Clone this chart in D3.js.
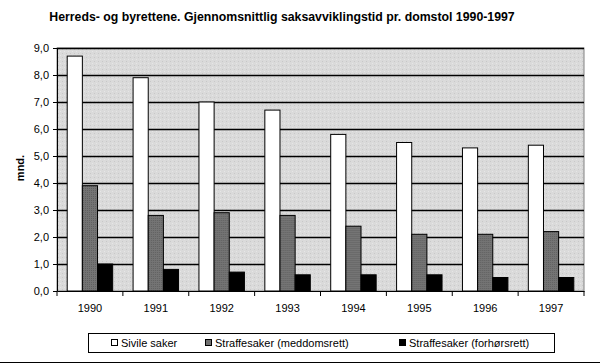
<!DOCTYPE html>
<html>
<head>
<meta charset="utf-8">
<script src="https://cdn.jsdelivr.net/npm/d3@7"></script>
<style>
  body { margin: 0; background: #fff; }
  text { font-family: "Liberation Sans", Arial, sans-serif; }
</style>
</head>
<body>
<script>
// Data
var years = ["1990", "1991", "1992", "1993", "1994", "1995", "1996", "1997"];
var seriesNames = ["Sivile saker", "Straffesaker (meddomsrett)", "Straffesaker (forhørsrett)"];
var sivile = [8.7, 7.9, 7.0, 6.7, 5.8, 5.5, 5.3, 5.4];
var meddomsrett = [3.9, 2.8, 2.9, 2.8, 2.4, 2.1, 2.1, 2.2];
var forhorsrett = [1.0, 0.8, 0.7, 0.6, 0.6, 0.6, 0.5, 0.5];
var yTicks = [0, 1, 2, 3, 4, 5, 6, 7, 8, 9];

var seriesValues = [sivile, meddomsrett, forhorsrett];
var seriesColors = ["#ffffff", "#707070", "#000000"];

var svgWidth = 600;
var svgHeight = 364;

var margin = { top: 48, right: 16, bottom: 73, left: 57 };
var chartWidth = svgWidth - margin.left - margin.right;
var chartHeight = svgHeight - margin.top - margin.bottom;

var svg = d3.select("body")
  .append("svg")
  .attr("width", svgWidth)
  .attr("height", svgHeight);

// bottom border line of the picture
svg.append("line")
  .attr("x1", 0).attr("x2", svgWidth)
  .attr("y1", 362.5).attr("y2", 362.5)
  .attr("stroke", "#000")
  .attr("stroke-width", 1);

svg.append("text")
  .attr("x", 282)
  .attr("y", 21)
  .attr("text-anchor", "middle")
  .style("font-size", "12.3px")
  .style("font-weight", "bold")
  .text("Herreds- og byrettene. Gjennomsnittlig saksavviklingstid pr. domstol 1990-1997");

var chartGroup = svg.append("g")
  .attr("transform", `translate(${margin.left}, ${margin.top})`);

var x0 = d3.scaleBand()
  .domain(years)
  .range([0, chartWidth]);

var x1 = d3.scaleBand()
  .domain(seriesNames)
  .range([x0.bandwidth() * 0.155, x0.bandwidth() * 0.845]);

var y = d3.scaleLinear()
  .domain([0, 9])
  .range([chartHeight, 0]);

// stippled plot background
var defs = svg.append("defs");
var pat = defs.append("pattern")
  .attr("id", "stipple")
  .attr("width", 4).attr("height", 4)
  .attr("patternUnits", "userSpaceOnUse");
pat.append("rect").attr("width", 4).attr("height", 4).attr("fill", "#dadada");
pat.append("rect").attr("x", 1).attr("y", 1).attr("width", 1).attr("height", 1).attr("fill", "#c8c8c8");
pat.append("rect").attr("x", 3).attr("y", 3).attr("width", 1).attr("height", 1).attr("fill", "#e6e6e6");

var pat2 = defs.append("pattern")
  .attr("id", "greyStipple")
  .attr("width", 2).attr("height", 2)
  .attr("patternUnits", "userSpaceOnUse");
pat2.append("rect").attr("width", 2).attr("height", 2).attr("fill", "#747474");
pat2.append("rect").attr("width", 1).attr("height", 1).attr("fill", "#606060");

chartGroup.append("rect")
  .attr("width", chartWidth)
  .attr("height", chartHeight)
  .attr("fill", "url(#stipple)")
  .attr("stroke", "#808080")
  .attr("stroke-width", 1);

// gridlines
chartGroup.append("g")
  .selectAll("line")
  .data(yTicks.slice(1))
  .enter()
  .append("line")
  .attr("x1", 0)
  .attr("x2", chartWidth)
  .attr("y1", d => Math.round(y(d)) + 0.5)
  .attr("y2", d => Math.round(y(d)) + 0.5)
  .attr("stroke", "#000")
  .attr("stroke-width", 1.3);

// bars
var groups = chartGroup.selectAll(".year")
  .data(years)
  .enter()
  .append("g")
  .attr("transform", d => `translate(${x0(d)}, 0)`);

groups.selectAll("rect")
  .data((d, i) => seriesNames.map((s, j) => ({ name: s, value: seriesValues[j][i], idx: j })))
  .enter()
  .append("rect")
  .attr("x", d => x1(d.name))
  .attr("y", d => y(d.value))
  .attr("width", x1.bandwidth())
  .attr("height", d => chartHeight - y(d.value))
  .attr("fill", d => d.idx === 1 ? "url(#greyStipple)" : seriesColors[d.idx])
  .attr("stroke", "#000")
  .attr("stroke-width", 1);

// axes
var fmt = d => d3.format(".1f")(d).replace(".", ",");
var leftAxis = d3.axisLeft(y)
  .tickValues(yTicks)
  .tickFormat(fmt)
  .tickSize(4)
  .tickSizeOuter(0)
  .tickPadding(4);

var yAxis = chartGroup.append("g").call(leftAxis);
yAxis.select(".domain").attr("stroke", "#000");
yAxis.selectAll("text").style("font-size", "11px").attr("fill", "#000");

var bottomAxis = d3.axisBottom(x0)
  .tickSize(0)
  .tickPadding(13);

var xAxis = chartGroup.append("g")
  .attr("transform", `translate(0, ${chartHeight})`)
  .call(bottomAxis);
xAxis.select(".domain").attr("stroke", "#000");
xAxis.selectAll("text").style("font-size", "11px").attr("fill", "#000");

// tick marks on category boundaries
xAxis.append("g")
  .selectAll("line")
  .data(years.concat(["end"]))
  .enter()
  .append("line")
  .attr("x1", (d, i) => i * x0.bandwidth())
  .attr("x2", (d, i) => i * x0.bandwidth())
  .attr("y1", 0)
  .attr("y2", 5)
  .attr("stroke", "#000");

// y axis label
svg.append("text")
  .attr("transform", "rotate(-90)")
  .attr("x", -168)
  .attr("y", 24)
  .attr("text-anchor", "middle")
  .style("font-size", "11px")
  .style("font-weight", "bold")
  .text("mnd.");

// legend
var legend = svg.append("g");
legend.append("rect")
  .attr("x", 88.5).attr("y", 333.5)
  .attr("width", 466).attr("height", 19)
  .attr("fill", "#fff")
  .attr("stroke", "#000");

var legendX = [111, 205, 399];
var items = legend.selectAll(".item")
  .data(seriesNames)
  .enter()
  .append("g")
  .attr("transform", (d, i) => `translate(${legendX[i]}, 343)`);

items.append("rect")
  .attr("x", 0.5).attr("y", -3.5)
  .attr("width", 6).attr("height", 6)
  .attr("fill", (d, i) => i === 1 ? "#707070" : seriesColors[i])
  .attr("stroke", "#000");

items.append("text")
  .attr("x", 10)
  .attr("y", 4)
  .style("font-size", "11px")
  .text(d => d);
</script>
</body>
</html>
